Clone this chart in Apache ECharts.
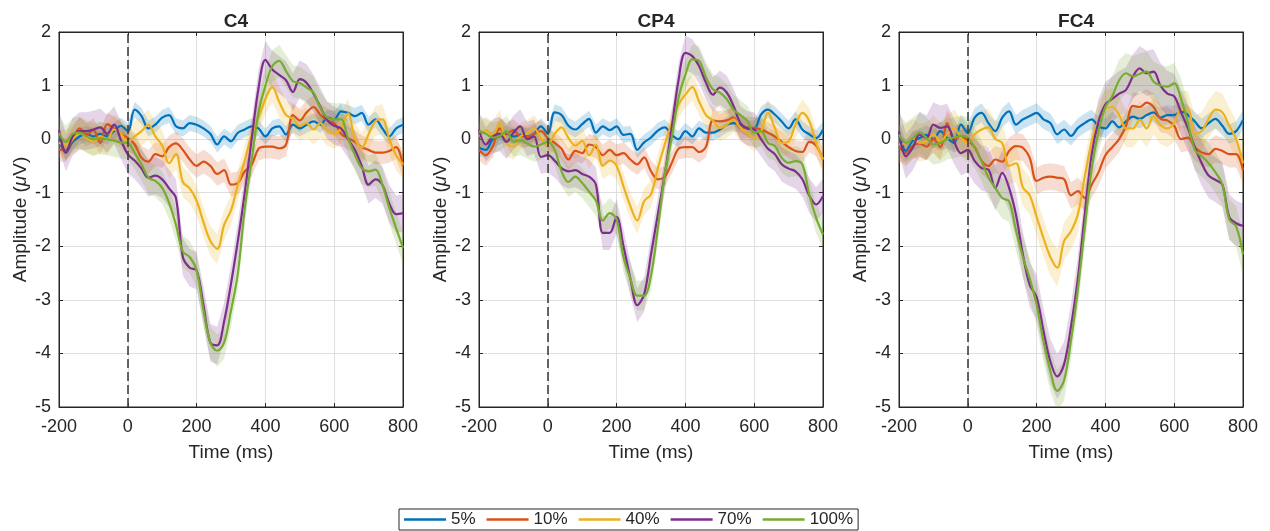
<!DOCTYPE html>
<html>
<head>
<meta charset="utf-8">
<script src="https://cdn.jsdelivr.net/npm/echarts@6/dist/echarts.min.js"></script>
<style>
  html, body { margin: 0; padding: 0; background: #fff; }
  #chart { width: 1270px; height: 531px; }
</style>
</head>
<body>
<div id="chart"></div>
<script>
// time axis (ms), one sample every 20 ms
var times = [-200,-180,-160,-140,-120,-100,-80,-60,-40,-20,0,20,40,60,80,100,120,140,160,180,200,220,240,260,280,300,320,340,360,380,400,420,440,460,480,500,520,540,560,580,600,620,640,660,680,700,720,740,760,780,800];
var levels = ['5%', '10%', '40%', '70%', '100%'];
var channels = ['C4', 'CP4', 'FC4'];
var stimulusOnset = 0;

// C4
var c4_05 = [0.0,-0.25,-0.05,0.05,0.1,0.05,0.1,0.05,0.15,0.25, 0.15,0.55,0.43,0.2,0.27,0.4,0.45,0.24,0.2,0.3, 0.27,0.2,0.1,-0.1,0.05,-0.04,0.12,0.18,0.24,0.2, 0.05,0.2,0.24,0.09,0.27,0.2,0.27,0.33,0.27,0.4, 0.37,0.52,0.49,0.43,0.49,0.27,0.37,0.2,0.05,0.2,0.27];
var c4_10 = [-0.2,-0.2,0.0,0.2,0.08,0.17,-0.07,0.28,0.2,0.1, 0.02,-0.1,-0.35,-0.42,-0.28,-0.32,-0.15,-0.08,-0.2,-0.38, -0.5,-0.42,-0.5,-0.65,-0.58,-0.85,-0.82,-0.6,-0.48,-0.18, -0.14,-0.14,-0.17,-0.1,0.45,0.35,0.5,0.6,0.45,0.35, 0.3,0.1,0.02,-0.05,-0.15,-0.2,-0.25,-0.25,-0.22,-0.15,-0.5];
var c4_40 = [-0.07,-0.1,0.0,0.12,0.02,-0.05,0.05,0.0,0.18,0.1, -0.05,0.05,0.15,0.27,0.05,-0.12,-0.45,-0.28,-0.8,-0.92, -1.15,-1.55,-1.9,-2.05,-1.6,-1.33,-0.85,-0.4,0.09,0.4, 0.75,0.97,0.7,0.45,0.38,0.25,0.3,0.18,0.3,0.15, 0.1,0.2,0.48,0.02,-0.16,0.09,0.34,0.37,0.0,-0.3,-0.47];
var c4_70 = [0.17,-0.25,0.05,0.15,0.15,0.18,0.22,0.1,0.27,-0.02, -0.28,-0.4,-0.55,-0.72,-0.68,-0.75,-0.92,-1.1,-2.2,-2.4, -2.45,-3.1,-3.8,-3.85,-3.4,-2.7,-1.9,-1.0,0.0,0.95, 1.48,1.3,1.2,1.1,0.88,1.12,1.05,0.85,0.6,0.35, 0.25,0.2,0.0,-0.2,-0.5,-0.85,-0.75,-0.85,-1.2,-1.4,-1.38];
var c4_100 = [0.12,-0.05,0.1,0.12,0.05,0.0,0.02,0.0,-0.03,-0.06, -0.07,-0.26,-0.47,-0.72,-0.78,-0.91,-1.19,-1.6,-2.1,-2.2, -2.45,-3.2,-3.8,-3.95,-3.8,-3.2,-2.5,-1.3,-0.4,0.5, 1.0,1.36,1.46,1.27,1.08,1.05,0.96,0.87,0.58,0.4, 0.37,0.37,0.02,-0.29,-0.54,-0.6,-0.57,-0.85,-1.28,-1.66,-2.03];

// CP4
var cp4_05 = [-0.16,-0.2,0.0,0.05,0.1,0.05,0.08,0.05,0.1,0.24, 0.1,0.5,0.45,0.25,0.18,0.28,0.38,0.12,0.24,0.17, 0.24,0.08,0.1,-0.2,-0.06,0.03,0.16,0.22,0.08,0.0, 0.15,0.05,0.2,0.12,0.12,0.18,0.27,0.3,0.27,0.2, 0.2,0.46,0.55,0.46,0.33,0.2,0.37,0.18,0.09,0.02,0.18];
var cp4_10 = [-0.2,-0.3,-0.14,0.2,0.1,0.17,0.05,0.05,0.1,0.15, 0.02,-0.07,-0.18,-0.38,-0.22,-0.26,-0.1,-0.15,-0.3,-0.2, -0.3,-0.26,-0.38,-0.47,-0.34,-0.6,-0.75,-0.7,-0.45,-0.18, -0.15,-0.15,-0.24,-0.14,0.35,0.33,0.35,0.4,0.2,0.22, 0.21,0.18,0.12,0.05,-0.05,-0.15,-0.22,-0.24,-0.05,-0.12,-0.38];
var cp4_40 = [0.05,0.17,0.08,0.3,-0.07,-0.14,0.05,0.11,0.2,0.02, -0.1,0.1,0.22,0.02,-0.12,-0.03,-0.3,-0.1,-0.5,-0.4, -0.5,-0.88,-1.25,-1.52,-1.16,-1.03,-0.54,-0.1,0.3,0.65, 0.83,0.97,0.7,0.45,0.35,0.21,0.27,0.37,0.21,0.12, 0.02,0.15,0.49,0.21,-0.07,-0.04,0.27,0.49,0.34,-0.07,-0.38];
var cp4_70 = [0.18,-0.1,0.05,0.1,-0.05,0.12,0.24,0.0,0.05,-0.33, -0.3,-0.4,-0.54,-0.6,-0.58,-0.65,-0.7,-0.85,-1.75,-1.75, -1.45,-2.0,-2.6,-3.1,-2.9,-2.15,-1.4,-0.66,0.2,1.1, 1.61,1.55,1.36,1.05,0.83,0.96,0.87,0.62,0.3,0.2, 0.18,0.0,-0.18,-0.28,-0.47,-0.55,-0.6,-0.75,-1.05,-1.22,-1.06];
var cp4_100 = [0.15,0.1,0.03,0.06,0.15,-0.05,-0.02,-0.08,-0.14,-0.1, -0.05,-0.2,-0.6,-0.8,-0.7,-0.82,-0.98,-1.15,-1.52,-1.38, -1.5,-2.2,-2.6,-2.92,-2.92,-2.55,-1.66,-0.66,0.02,0.77, 1.2,1.49,1.46,1.15,0.93,0.87,0.75,0.55,0.45,0.34, 0.12,0.15,-0.07,-0.13,-0.35,-0.44,-0.41,-0.47,-1.03,-1.47,-1.78];

// FC4
var fc4_05 = [0.12,-0.22,-0.03,0.02,0.08,0.0,0.15,0.02,-0.07,0.27, 0.12,0.4,0.49,0.3,0.15,0.4,0.52,0.27,0.37,0.43, 0.49,0.37,0.3,0.09,0.18,0.06,0.21,0.3,0.37,0.24, 0.2,0.33,0.22,0.33,0.42,0.38,0.45,0.5,0.4,0.45, 0.45,0.52,0.45,0.33,0.2,0.3,0.38,0.25,0.1,0.15,0.36];
var fc4_10 = [-0.14,-0.26,-0.12,-0.08,-0.14,0.0,-0.15,0.3,0.0,0.05, -0.03,-0.15,-0.4,-0.5,-0.38,-0.42,-0.22,-0.13,-0.16,-0.35, -0.78,-0.72,-0.7,-0.72,-0.75,-1.05,-0.97,-1.1,-0.85,-0.62, -0.3,-0.15,0.0,0.25,0.62,0.6,0.68,0.6,0.38,0.35, 0.25,0.0,0.03,-0.15,-0.25,-0.28,-0.18,-0.22,-0.28,-0.28,-0.58];
var fc4_40 = [-0.1,-0.07,0.02,-0.07,-0.04,0.09,-0.04,0.09,0.21,0.02, -0.07,0.09,0.18,0.22,0.0,-0.07,-0.5,-0.45,-0.9,-1.05, -1.45,-1.85,-2.2,-2.4,-1.9,-1.72,-1.4,-0.7,-0.05,0.35, 0.57,0.6,0.45,0.2,0.2,0.36,0.2,0.43,0.26,0.2, 0.3,0.55,0.55,0.1,0.15,0.38,0.55,0.5,0.25,0.0,-0.45];
var fc4_70 = [0.15,-0.32,-0.16,0.09,0.02,0.27,0.21,0.24,-0.04,-0.26, -0.2,-0.41,-0.54,-0.57,-0.91,-0.63,-0.91,-1.41,-2.15,-2.72, -2.95,-3.58,-4.15,-4.43,-4.2,-3.5,-2.6,-1.4,-0.29,0.33, 0.65,0.75,0.85,0.92,1.17,1.32,1.23,1.26,1.0,0.85, 0.8,0.5,0.2,-0.15,-0.45,-0.68,-0.76,-0.85,-1.45,-1.57,-1.62];
var fc4_100 = [0.09,-0.07,0.02,0.12,0.02,-0.1,-0.07,0.0,0.03,0.06, 0.03,-0.16,-0.41,-0.72,-0.91,-1.1,-1.16,-1.7,-2.2,-2.6, -3.09,-3.77,-4.33,-4.7,-4.5,-3.75,-2.8,-1.65,-0.55,0.15, 0.6,0.8,1.1,1.23,1.17,1.22,1.26,1.07,1.0,0.98, 1.04,0.75,0.3,-0.2,-0.32,-0.45,-0.62,-0.85,-1.5,-1.63,-2.15];

// shaded band half-width (SEM) per level
var semC4 = [0.15, 0.22, 0.28, 0.35, 0.3];
var semCP4 = [0.15, 0.2, 0.25, 0.32, 0.28];
var semFC4 = [0.18, 0.25, 0.35, 0.42, 0.38];

var panels = [
  { data: [c4_05, c4_10, c4_40, c4_70, c4_100], sem: semC4 },
  { data: [cp4_05, cp4_10, cp4_40, cp4_70, cp4_100], sem: semCP4 },
  { data: [fc4_05, fc4_10, fc4_40, fc4_70, fc4_100], sem: semFC4 }
];

var colors = ['#0072BD', '#D95319', '#EDB120', '#7E2F8E', '#77AC30'];
var bandColors = ['rgba(0,114,189,0.2)', 'rgba(217,83,25,0.2)', 'rgba(237,177,32,0.2)', 'rgba(126,47,142,0.2)', 'rgba(119,172,48,0.2)'];

var ink = '#262626';
var font = '"Liberation Sans", Arial, Helvetica, sans-serif';
var gridLefts = [59, 479, 899];
var gridW = 344, gridTop = 32, gridH = 375;

var chart = echarts.init(document.getElementById('chart'));

var option = {
  animation: false,
  backgroundColor: '#fff',
  textStyle: { fontFamily: font, color: ink },
  title: [],
  grid: [],
  xAxis: [],
  yAxis: [],
  legend: {
    data: levels,
    left: 399,
    top: 509,
    orient: 'horizontal',
    icon: 'rect',
    itemWidth: 42,
    itemHeight: 2.5,
    itemGap: 11,
    padding: [2, 5, 2, 5],
    borderColor: ink,
    borderWidth: 1,
    backgroundColor: '#fff',
    textStyle: { fontSize: 17, color: ink, fontFamily: font }
  },
  series: []
};

function bandSeries(g, vals, sem, color) {
  return {
    type: 'custom',
    name: 'band',
    xAxisIndex: 2 * g,
    yAxisIndex: 2 * g,
    clip: true,
    silent: true,
    data: [[times[0], vals[0]]],
    renderItem: function (params, api) {
      if (params.dataIndex !== 0) return;
      var upper = [], lower = [];
      for (var i = 0; i < times.length; i++) {
        upper.push(api.coord([times[i], vals[i] + sem]));
        lower.push(api.coord([times[i], vals[i] - sem]));
      }
      return {
        type: 'polygon',
        shape: { points: upper.concat(lower.reverse()) },
        style: { fill: color, stroke: null }
      };
    }
  };
}

panels.forEach(function (p, g) {
  option.title.push({
    text: channels[g],
    left: gridLefts[g] + gridW / 2,
    top: 7,
    textAlign: 'center',
    textStyle: { fontSize: 19, fontWeight: 'bold', color: ink, fontFamily: font }
  });
  option.grid.push({
    left: gridLefts[g], top: gridTop, width: gridW, height: gridH,
    show: true, borderColor: ink, borderWidth: 1, backgroundColor: '#fff'
  });
  option.xAxis.push({
    gridIndex: g, type: 'value', min: -200, max: 800, interval: 200,
    name: 'Time (ms)', nameLocation: 'middle', nameGap: 36,
    nameTextStyle: { fontSize: 19, color: ink, fontFamily: font },
    axisLine: { show: true, onZero: false, lineStyle: { color: ink, width: 1 } },
    axisTick: { show: true, inside: true, length: 4, lineStyle: { color: ink } },
    axisLabel: { fontSize: 18, color: ink, margin: 11, fontFamily: font },
    splitLine: { show: true, lineStyle: { color: '#dfdfdf', width: 1 } }
  });
  option.xAxis.push({
    gridIndex: g, type: 'value', position: 'top', min: -200, max: 800, interval: 200,
    axisLine: { show: true, onZero: false, lineStyle: { color: ink, width: 1 } },
    axisTick: { show: true, inside: true, length: 4, lineStyle: { color: ink } },
    axisLabel: { show: false },
    splitLine: { show: false }
  });
  option.yAxis.push({
    gridIndex: g, type: 'value', min: -5, max: 2, interval: 1,
    name: '{n|Amplitude (}{i|μ}{n|V)}', nameLocation: 'middle', nameGap: 29,
    nameTextStyle: {
      fontSize: 19, color: ink, fontFamily: font,
      rich: {
        n: { fontSize: 19, color: ink, fontFamily: font },
        i: { fontSize: 19, color: ink, fontFamily: font, fontStyle: 'italic' }
      }
    },
    axisLine: { show: true, onZero: false, lineStyle: { color: ink, width: 1 } },
    axisTick: { show: true, inside: true, length: 4, lineStyle: { color: ink } },
    axisLabel: { fontSize: 18, color: ink, margin: 8, fontFamily: font },
    splitLine: { show: true, lineStyle: { color: '#dfdfdf', width: 1 } }
  });
  option.yAxis.push({
    gridIndex: g, type: 'value', position: 'right', min: -5, max: 2, interval: 1,
    axisLine: { show: true, onZero: false, lineStyle: { color: ink, width: 1 } },
    axisTick: { show: true, inside: true, length: 4, lineStyle: { color: ink } },
    axisLabel: { show: false },
    splitLine: { show: false }
  });

  p.data.forEach(function (vals, k) {
    option.series.push(bandSeries(g, vals, p.sem[k], bandColors[k]));
    var line = {
      type: 'line',
      name: levels[k],
      xAxisIndex: 2 * g,
      yAxisIndex: 2 * g,
      data: times.map(function (t, i) { return [t, vals[i]]; }),
      showSymbol: false,
      smooth: 0.35,
      clip: true,
      silent: true,
      color: colors[k],
      lineStyle: { color: colors[k], width: 2.2 }
    };
    if (k === 0) {
      line.markLine = {
        silent: true,
        symbol: ['none', 'none'],
        label: { show: false },
        lineStyle: { color: '#404040', type: [9, 4], width: 1.6 },
        data: [{ xAxis: stimulusOnset }]
      };
    }
    option.series.push(line);
  });
});

chart.setOption(option);
</script>
</body>
</html>
